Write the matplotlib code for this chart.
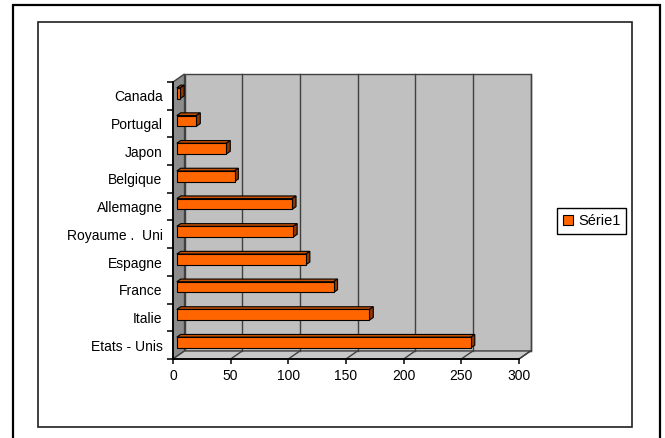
import matplotlib.pyplot as plt
from matplotlib.patches import Polygon, Rectangle
from matplotlib.lines import Line2D

# values (bottom to top)
pays = ["Etats - Unis", "Italie", "France", "Espagne", "Royaume .  Uni",
        "Allemagne", "Belgique", "Japon", "Portugal", "Canada"]
valeurs = [255, 167, 136, 112, 101, 100, 50, 43, 17, 3]
serie = "Série1"

plt.rcParams['font.family'] = ['Liberation Sans', 'DejaVu Sans']

W, H = 665, 438
fig = plt.figure(figsize=(W / 100, H / 100), dpi=100)

# front plane of the 3d box
ax = fig.add_axes([173 / W, 1 - 359 / H, (519 - 173) / W, (359 - 82) / H])
ax.set_xlim(0, 300)
ax.set_ylim(-0.5, len(pays) - 0.5)
ax.patch.set_visible(False)

# depth of the box in data units
dx, dy = 10.0, 0.29
y0, y1 = -0.5, len(pays) - 0.5
wall = "#C0C0C0"
edge = "#404040"

ax.add_patch(Polygon([(dx, y0 + dy), (300 + dx, y0 + dy), (300 + dx, y1 + dy), (dx, y1 + dy)],
                     closed=True, fc=wall, ec=edge, lw=1, clip_on=False, zorder=0))
ax.add_patch(Polygon([(0, y0), (dx, y0 + dy), (dx, y1 + dy), (0, y1)],
                     closed=True, fc="#8C8C8C", ec=edge, lw=1, clip_on=False, zorder=0))
ax.add_patch(Polygon([(0, y0), (300, y0), (300 + dx, y0 + dy), (dx, y0 + dy)],
                     closed=True, fc="#C8C8C8", ec=edge, lw=1, clip_on=False, zorder=0))

for t in range(50, 301, 50):
    ax.add_line(Line2D([t + dx, t + dx], [y0 + dy, y1 + dy], color=edge, lw=1, clip_on=False, zorder=1))
    ax.add_line(Line2D([t, t + dx], [y0, y0 + dy], color=edge, lw=1, clip_on=False, zorder=1))

# bars at 1/3 .. 2/3 of the depth
bx, by = dx / 3, dy / 3
h = 0.386
for i, v in enumerate(valeurs):
    yc = i + by
    yb, yt = yc - h / 2, yc + h / 2
    ax.add_patch(Polygon([(bx, yt), (bx + v, yt), (bx + v + bx, yt + by), (bx + bx, yt + by)],
                         closed=True, fc="#C65000", ec="black", lw=0.8, clip_on=False, zorder=3))
    ax.add_patch(Polygon([(bx + v, yb), (bx + v, yt), (bx + v + bx, yt + by), (bx + v + bx, yb + by)],
                         closed=True, fc="#8F3800", ec="black", lw=0.8, clip_on=False, zorder=3))
    ax.barh(yc, v, left=bx, height=h, color="#FF6600", edgecolor="black", lw=0.8, zorder=4,
            label=serie if i == 0 else None)

for s in ["top", "right"]:
    ax.spines[s].set_visible(False)
for s in ["left", "bottom"]:
    ax.spines[s].set_linewidth(1.3)
    ax.spines[s].set_zorder(5)

ax.set_xticks(range(0, 301, 50))
ax.tick_params(axis="x", length=3.5, width=1.1, pad=4, labelsize=10)
ax.set_yticks(range(len(pays)))
ax.set_yticklabels(pays)
ax.tick_params(axis="y", length=0, pad=7.5, labelsize=10)
ax.set_yticks([k - 0.5 for k in range(len(pays) + 1)], minor=True)
ax.tick_params(axis="y", which="minor", length=4.5, width=1.1)

fig.legend(loc="center left", bbox_to_anchor=(557 / W, 1 - 221 / H), fontsize=10.5,
           frameon=True, fancybox=False, edgecolor="black", framealpha=1,
           handlelength=0.7, handleheight=0.7, handletextpad=0.35, borderpad=0.4,
           borderaxespad=0)

# chart frames
fig.patches.append(Rectangle((13 / W, -0.05), (660 - 13) / W, 1.05 - 5 / H,
                             transform=fig.transFigure, fill=False, ec="black", lw=1.6))
fig.patches.append(Rectangle((38 / W, 1 - 427 / H), (632 - 38) / W, (427 - 21.5) / H,
                             transform=fig.transFigure, fill=False, ec="#202020", lw=1.2))

fig.savefig("out.png", dpi=100)
